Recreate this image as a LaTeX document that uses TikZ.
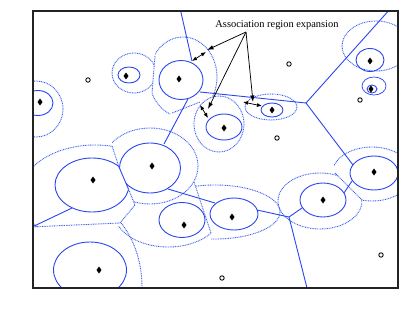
\documentclass[tikz,border=0pt]{standalone}
\usepackage{fontspec}
\setmainfont{Liberation Serif}
\usetikzlibrary{arrows.meta}
\definecolor{voroblue}{RGB}{40,70,240}
\definecolor{growblue}{RGB}{60,95,245}
\definecolor{boxc}{RGB}{35,35,35}
\newcommand{\BS}[1]{\fill #1 +(0,-3.5) -- +(2.5,0) -- +(0,3.5) -- +(-2.5,0) -- cycle;}
\newcommand{\UE}[1]{\draw[line width=0.9pt] #1 circle (2.2);}

\begin{document}
\begin{tikzpicture}[x=1pt,y=-1pt,
  cellline/.style={draw=voroblue,line width=0.9pt},
  assoc/.style={draw=voroblue,line width=0.9pt},
  grown/.style={draw=growblue,line width=0.9pt,dash pattern=on 0.9pt off 0.8pt},
  pointer/.style={-{Latex[length=6.5pt,width=4.5pt]},line width=0.75pt},
  span/.style={{Latex[length=5pt,width=4pt]}-{Latex[length=5pt,width=4pt]},line width=0.75pt},
  every node/.style={font=\fontsize{10.4}{12}\selectfont}]
  \useasboundingbox (0,0) rectangle (415,321);

  \begin{scope}
    \clip (33,11) rectangle (398,288);
    % expanded regions (dotted)
    \draw[grown] (36,109) ellipse (27 and 28);
    \begin{scope}
      \clip (100,30) -- (156,30) -- (155,56) -- (152,93) -- (100,100) -- cycle;
      \draw[grown] (134,73) ellipse (22 and 20);
    \end{scope}
    \begin{scope}
      \clip (155,20) -- (155,56) -- (152,93) -- (140,93) -- (140,130) -- (172,113) -- (200,102) -- (225,92) -- (225,20) -- cycle;
      \draw[grown] (183,77) ellipse (34 and 40);
    \end{scope}
    \draw[grown] (219,124) ellipse (25 and 28);
    \draw[grown] (271,107) ellipse (26 and 13);
    \draw[grown] (376,46) ellipse (34 and 25);
    \begin{scope}
      \clip (20,100) -- (112,100) -- (112,146) -- (119,167) -- (129,190) -- (135,205) -- (120,223) -- (20,228) -- cycle;
      \draw[grown] (95,195) ellipse (75 and 50);
    \end{scope}
    \begin{scope}
      \clip (112,100) -- (112,146) -- (119,167) -- (129,190) -- (135,205) -- (150,260) -- (260,260) -- (260,100) -- cycle;
      \draw[grown] (150,166) ellipse (48 and 38);
    \end{scope}
    \begin{scope}
      \clip (120,223) -- (135,202) -- (145,204) -- (155,204) -- (165,202) -- (175,198.4) -- (185,192) -- (192,184.4) -- (194,182) -- (211,233) -- (211,270) -- (100,270) -- cycle;
      \draw[grown] (168,212) ellipse (54 and 35);
    \end{scope}
    \begin{scope}
      \clip (20,227.5) -- (120,223) -- (200,222) -- (200,300) -- (20,300) -- cycle;
      \draw[grown] (70,287) ellipse (72 and 91);
    \end{scope}
    \begin{scope}
      \clip (194,150) -- (194,182) -- (211,233) -- (211,260) -- (290,260) -- (290,150) -- cycle;
      \draw[grown] (215,212) ellipse (65 and 27);
    \end{scope}
    \begin{scope}
      \clip (270,140) -- (340,140) -- (335,173) -- (362,200) -- (370,240) -- (270,240) -- cycle;
      \draw[grown] (320,201) ellipse (42 and 28);
    \end{scope}
    \begin{scope}
      \clip (335,173) -- (330,140) -- (400,140) -- (400,240) -- (370,240) -- (362,200) -- cycle;
      \draw[grown] (372,174) ellipse (40 and 27);
    \end{scope}
    \draw[grown] (155,56) -- (152,93);
    \draw[grown] (172,113) -- (200,102);
    \draw[grown] (112,146) -- (119,167);
    \draw[grown] (128,188) -- (135,205) -- (120,223) -- (30,227);
    \draw[grown] (194,182) -- (211,233);
    \draw[grown] (335,173) -- (362,200);

    % association regions (solid)
    \draw[assoc] (38,103) ellipse (15 and 12.5);
    \draw[assoc] (129,75) ellipse (11 and 8);
    \draw[assoc] (181,80) ellipse (22 and 19.5);
    \draw[assoc] (224,127) ellipse (18 and 13);
    \draw[assoc] (272,110) ellipse (11 and 7);
    \draw[assoc] (370,60) ellipse (14 and 11.5);
    \draw[assoc,line width=0.7pt] (374,86) ellipse (12 and 9);
    \draw[assoc] (372,89) ellipse (5 and 4);
    \begin{scope}
      \clip (40,140) -- (112,140) -- (119,167) -- (129,190) -- (135,230) -- (40,230) -- cycle;
      \draw[assoc] (92,185) ellipse (37 and 27);
    \end{scope}
    \begin{scope}
      \clip (119,140) -- (200,140) -- (200,200) -- (131,200) -- (128,188) -- (119,167) -- cycle;
      \draw[assoc] (150,168) ellipse (30.5 and 25);
    \end{scope}
    \draw[assoc] (182,220) ellipse (23 and 17.5);
    \draw[assoc] (90,270) ellipse (36.5 and 28);
    \draw[assoc] (234,214) ellipse (24 and 16);
    \draw[assoc] (323,200) ellipse (23 and 17);
    \draw[assoc] (374,173) ellipse (24 and 17);

    % cell borders
    \draw[cellline] (180,8) -- (192,61);
    \draw[cellline] (200,92) -- (306,103) -- (391,8);
    \draw[cellline] (306,103) -- (353,165);
    \draw[cellline] (188,99) -- (164,144);
    \draw[cellline] (119,167) -- (128,188);
    \draw[cellline] (72,208) -- (30,228);
    \draw[cellline] (168,189) -- (215,203);
    \draw[cellline] (257,210) -- (289,217) -- (302,208);
    \draw[cellline] (289,217) -- (308,292);
    \draw[cellline] (344,193) -- (352,181);
  \end{scope}

  % base stations
  \foreach \p in {(40,102),(126,76),(179,79),(224,128),(272,110),(370,61),(371,89),
                  (93,180),(152,166),(184,225),(99,270),(232,217),(323,200),(374,172)}
    {\BS{\p}}
  % users
  \foreach \p in {(88,80),(289,64),(360,100),(277,138),(222,278),(381,255)}
    {\UE{\p}}

  \draw[boxc,line width=1.3pt] (33,11) rectangle (398,288);

  % annotation
  \node (lbl) at (277,25) {Association region expansion};
  \coordinate (hub) at (246,32);
  \coordinate (tipC) at (207,50);
  \coordinate (tipD) at (208,109);
  \coordinate (tipE) at (253,102);
  \coordinate (cIn) at (192,61);
  \coordinate (cOut) at (206,52);
  \coordinate (dOut) at (200,105);
  \coordinate (dIn) at (208,118);
  \coordinate (eOut) at (243,102);
  \coordinate (eIn) at (262,106);
  \draw[pointer] (hub) -- (tipC);
  \draw[pointer] (hub) -- (tipD);
  \draw[pointer] (hub) -- (tipE);
  \draw[span] (cIn) -- (cOut);
  \draw[span] (dOut) -- (dIn);
  \draw[span] (eOut) -- (eIn);
\end{tikzpicture}
\end{document}
